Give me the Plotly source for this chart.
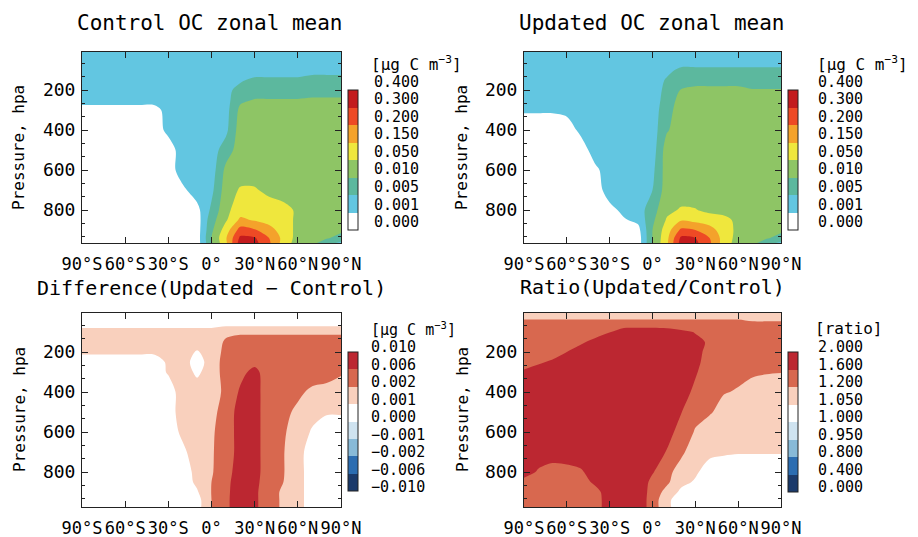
import numpy as np
import plotly.graph_objects as go

# ---------------- data ----------------
LATS = [-90, -80, -70, -60, -50, -40, -30, -20, -10, 0, 10, 20, 30, 40, 50, 60, 70, 80, 90]
PRESSURE = [5, 50, 100, 150, 200, 250, 300, 400, 500, 600, 700, 800, 850, 900, 940, 975]

LAT_TICKS = [-90, -60, -30, 0, 30, 60, 90]
LAT_LABELS = ["90°S", "60°S", "30°S", "0°", "30°N", "60°N", "90°N"]
P_TICKS = [200, 400, 600, 800]

OC_LEVELS = [0.000, 0.001, 0.005, 0.010, 0.050, 0.150, 0.200, 0.300, 0.400]
OC_LABELS = ["0.000", "0.001", "0.005", "0.010", "0.050", "0.150", "0.200", "0.300", "0.400"]
DIFF_LEVELS = [-0.010, -0.006, -0.002, -0.001, 0.000, 0.001, 0.002, 0.006, 0.010]
DIFF_LABELS = ["\u22120.010", "\u22120.006", "\u22120.002", "\u22120.001", "0.000", "0.001", "0.002", "0.006", "0.010"]
RATIO_LEVELS = [0.000, 0.400, 0.800, 0.950, 1.000, 1.050, 1.200, 1.600, 2.000]
RATIO_LABELS = ["0.000", "0.400", "0.800", "0.950", "1.000", "1.050", "1.200", "1.600", "2.000"]

# zonal mean OC, ug C m-3 ; rows = PRESSURE, columns = LATS
CONTROL_OC = [
    [.003, .003, .003, .003, .003, .003, .003, .003, .003, .003, .003, .003, .003, .003, .003, .003, .003, .003, .003],
    [.003, .003, .003, .003, .003, .003, .003, .003, .003, .003, .003, .003, .003, .003, .003, .003, .003, .003, .003],
    [.003, .003, .003, .003, .003, .003, .003, .003, .003, .003, .003, .003, .003, .003, .003, .003, .003, .003, .003],
    [.003, .003, .003, .003, .003, .003, .003, .003, .003, .003, .003, .0045, .006, .006, .006, .006, .0075, .0075, .0075],
    [.003, .003, .003, .003, .003, .003, .003, .003, .003, .003, .004, .0065, .008, .008, .008, .008, .008, .008, .008],
    [.003, .003, .003, .003, .003, .003, .003, .003, .003, .003, .0035, .009, .012, .012, .012, .012, .015, .015, .015],
    [.0005, .0005, .0005, .0005, .0005, .0005, .003, .003, .003, .003, .0035, .02, .03, .03, .03, .03, .03, .03, .03],
    [.0005, .0005, .0005, .0005, .0005, .0005, .002, .003, .003, .003, .004, .03, .03, .03, .03, .03, .03, .03, .03],
    [.0005, .0005, .0005, .0005, .0005, .0005, .0005, .003, .003, .003, .0075, .03, .03, .03, .03, .03, .03, .03, .03],
    [.0005, .0005, .0005, .0005, .0005, .0005, .0005, .003, .003, .003, .02, .03, .03, .03, .03, .03, .03, .03, .03],
    [.0005, .0005, .0005, .0005, .0005, .0005, .0005, .0008, .003, .004, .03, .06, .06, .04, .02, .03, .03, .03, .03],
    [.0005, .0005, .0005, .0005, .0005, .0005, .0005, .0005, .0007, .006, .04, .1, .1, .1, .1, .04, .03, .03, .03],
    [.0005, .0005, .0005, .0005, .0005, .0005, .0005, .0005, .0005, .008, .045, .16, .14, .11, .1, .04, .03, .03, .03],
    [.0005, .0005, .0005, .0005, .0005, .0005, .0005, .0005, .0005, .009, .1, .24, .21, .17, .1, .04, .03, .025, .02],
    [.0005, .0005, .0005, .0005, .0005, .0005, .0005, .0005, .0005, .01, .14, .32, .31, .2, .12, .035, .025, .015, .008],
    [.0005, .0005, .0005, .0005, .0005, .0005, .0005, .0005, .0005, .009, .12, .36, .34, .22, .1, .03, .012, .005, .003],
]

UPDATED_OC = [
    [.003, .003, .003, .003, .003, .003, .003, .003, .003, .003, .003, .003, .003, .003, .003, .003, .003, .003, .003],
    [.003, .003, .003, .003, .003, .003, .003, .003, .003, .003, .003, .003, .003, .003, .003, .003, .003, .003, .003],
    [.003, .003, .003, .003, .003, .003, .003, .003, .003, .003, .004, .006, .006, .006, .006, .006, .006, .006, .006],
    [.003, .003, .003, .003, .003, .003, .003, .003, .003, .003, .0055, .0075, .008, .008, .008, .008, .008, .008, .008],
    [.003, .003, .003, .003, .003, .003, .003, .003, .003, .0035, .006, .012, .02, .02, .02, .02, .012, .012, .012],
    [.003, .003, .003, .003, .003, .003, .003, .003, .003, .003, .007, .025, .03, .03, .03, .03, .03, .03, .03],
    [.0014, .0014, .0014, .002, .003, .003, .003, .003, .003, .003, .008, .03, .03, .03, .03, .03, .03, .03, .03],
    [.0005, .0005, .0005, .0005, .002, .003, .003, .003, .003, .003, .0095, .03, .03, .03, .03, .03, .03, .03, .03],
    [.0005, .0005, .0005, .0005, .0005, .003, .003, .003, .003, .003, .03, .03, .03, .03, .03, .03, .03, .03, .03],
    [.0005, .0005, .0005, .0005, .0005, .0008, .003, .003, .003, .004, .03, .03, .03, .03, .03, .03, .03, .03, .03],
    [.0005, .0005, .0005, .0005, .0005, .0005, .003, .003, .003, .005, .03, .03, .03, .03, .03, .03, .03, .03, .03],
    [.0005, .0005, .0005, .0005, .0005, .0005, .0007, .002, .003, .008, .04, .06, .055, .04, .035, .03, .03, .03, .03],
    [.0005, .0005, .0005, .0005, .0005, .0005, .0005, .0009, .002, .009, .06, .14, .12, .1, .08, .04, .03, .03, .03],
    [.0005, .0005, .0005, .0005, .0005, .0005, .0005, .0005, .0007, .01, .1, .22, .2, .17, .1, .04, .03, .025, .02],
    [.0005, .0005, .0005, .0005, .0005, .0005, .0005, .0005, .0005, .011, .12, .32, .3, .2, .11, .035, .025, .015, .008],
    [.0005, .0005, .0005, .0005, .0005, .0005, .0005, .0005, .0005, .012, .13, .35, .33, .22, .1, .03, .012, .005, .003],
]

DIFF_OC = [
    [.0005, .0005, .0005, .0005, .0005, .0005, .0005, .0005, .0005, .0005, .0005, .0005, .0005, .0005, .0005, .0005, .0005, .0005, .0005],
    [.0004, .0004, .0004, .0004, .0004, .0004, .0004, .0004, .0004, .0004, .0004, .0004, .0004, .0004, .0004, .0004, .0004, .0004, .0004],
    [.0014, .0014, .0014, .0014, .0014, .0014, .0014, .0014, .0014, .0014, .0018, .0018, .0018, .0018, .0018, .0018, .0018, .0018, .0018],
    [.0015, .0015, .0015, .0015, .0015, .0015, .0015, .0015, .0015, .0015, .0025, .004, .004, .004, .004, .004, .004, .004, .004],
    [.0012, .0012, .0012, .0012, .0012, .0012, .0015, .0015, .0009, .0015, .003, .004, .004, .004, .004, .004, .004, .004, .004],
    [.0004, .0004, .0004, .0004, .0004, .0004, .0012, .0015, .0005, .0015, .0035, .004, .005, .004, .004, .004, .004, .004, .004],
    [.0005, .0005, .0005, .0005, .0005, .0005, .0011, .0015, .0008, .0015, .0035, .005, .007, .004, .004, .004, .004, .004, .0025],
    [.0005, .0005, .0005, .0005, .0005, .0005, .0005, .0015, .0015, .0015, .003, .0065, .008, .003, .004, .0028, .0018, .0016, .0015],
    [.0005, .0005, .0005, .0005, .0005, .0005, .0005, .0015, .0015, .0018, .0032, .008, .008, .003, .003, .0018, .0013, .0011, .0011],
    [.0005, .0005, .0005, .0005, .0005, .0005, .0005, .0012, .0015, .0019, .0034, .008, .008, .003, .0025, .0015, .0009, .0005, .0005],
    [.0005, .0005, .0005, .0005, .0005, .0005, .0005, .0008, .0015, .0019, .004, .0075, .008, .003, .0022, .0013, .0006, .0005, .0005],
    [.0005, .0005, .0005, .0005, .0005, .0005, .0005, .0005, .0013, .0019, .0048, .0075, .008, .003, .0022, .0013, .0006, .0005, .0005],
    [.0005, .0005, .0005, .0005, .0005, .0005, .0005, .0005, .0012, .002, .005, .008, .0075, .003, .002, .0013, .0006, .0005, .0005],
    [.0005, .0005, .0005, .0005, .0005, .0005, .0005, .0005, .0009, .0021, .0052, .008, .007, .003, .0019, .0013, .0006, .0005, .0005],
    [.0005, .0005, .0005, .0005, .0005, .0005, .0005, .0005, .0006, .002, .0053, .008, .007, .003, .0019, .0013, .0006, .0005, .0005],
    [.0005, .0005, .0005, .0005, .0005, .0005, .0005, .0005, .0006, .002, .0053, .008, .007, .003, .0019, .0013, .0006, .0005, .0005],
]

RATIO_OC = [
    [1.15, 1.15, 1.15, 1.15, 1.15, 1.15, 1.15, 1.15, 1.15, 1.15, 1.15, 1.15, 1.15, 1.15, 1.15, 1.15, 1.15, 1.15, 1.15],
    [1.25, 1.25, 1.25, 1.25, 1.25, 1.25, 1.25, 1.25, 1.25, 1.25, 1.25, 1.25, 1.25, 1.25, 1.25, 1.25, 1.21, 1.21, 1.21],
    [1.4, 1.4, 1.4, 1.4, 1.4, 1.45, 1.58, 1.83, 1.85, 1.85, 1.8, 1.69, 1.58, 1.45, 1.4, 1.4, 1.4, 1.4, 1.4],
    [1.4, 1.4, 1.4, 1.4, 1.55, 1.7, 1.85, 1.85, 1.85, 1.85, 1.85, 1.8, 1.7, 1.55, 1.4, 1.4, 1.4, 1.4, 1.4],
    [1.4, 1.4, 1.45, 1.6, 1.75, 1.85, 1.85, 1.85, 1.85, 1.85, 1.85, 1.85, 1.8, 1.4, 1.4, 1.4, 1.4, 1.4, 1.4],
    [1.45, 1.55, 1.65, 1.75, 1.85, 1.85, 1.85, 1.85, 1.85, 1.85, 1.85, 1.85, 1.75, 1.35, 1.35, 1.35, 1.35, 1.35, 1.35],
    [1.65, 1.75, 1.85, 1.85, 1.85, 1.85, 1.85, 1.85, 1.85, 1.85, 1.85, 1.85, 1.65, 1.35, 1.3, 1.28, 1.25, 1.22, 1.21],
    [1.85, 1.85, 1.85, 1.85, 1.85, 1.85, 1.85, 1.85, 1.85, 1.85, 1.85, 1.8, 1.5, 1.3, 1.22, 1.19, 1.15, 1.14, 1.13],
    [1.85, 1.85, 1.85, 1.85, 1.85, 1.85, 1.85, 1.85, 1.85, 1.85, 1.8, 1.62, 1.3, 1.24, 1.15, 1.12, 1.12, 1.11, 1.1],
    [1.85, 1.85, 1.85, 1.85, 1.85, 1.85, 1.85, 1.85, 1.85, 1.85, 1.8, 1.4, 1.19, 1.12, 1.1, 1.09, 1.08, 1.08, 1.08],
    [1.85, 1.85, 1.85, 1.85, 1.85, 1.85, 1.85, 1.85, 1.85, 1.75, 1.58, 1.3, 1.1, 1.08, 1.07, 1.06, 1.06, 1.06, 1.06],
    [1.8, 1.55, 1.4, 1.45, 1.55, 1.8, 1.85, 1.85, 1.85, 1.63, 1.35, 1.12, 1.07, 1.03, 1.02, 1.02, 1.02, 1.02, 1.02],
    [1.45, 1.4, 1.4, 1.4, 1.4, 1.7, 1.85, 1.85, 1.85, 1.5, 1.28, 1.09, 1.045, 1.02, 1.02, 1.02, 1.02, 1.02, 1.02],
    [1.4, 1.4, 1.4, 1.4, 1.4, 1.45, 1.85, 1.85, 1.85, 1.45, 1.15, 1.04, 1.02, 1.02, 1.02, 1.02, 1.02, 1.02, 1.02],
    [1.4, 1.4, 1.4, 1.4, 1.4, 1.4, 1.85, 1.85, 1.85, 1.42, 1.09, 1.02, 1.02, 1.02, 1.02, 1.02, 1.02, 1.02, 1.02],
    [1.4, 1.4, 1.4, 1.4, 1.4, 1.4, 1.85, 1.85, 1.85, 1.42, 1.09, 1.02, 1.02, 1.02, 1.02, 1.02, 1.02, 1.02, 1.02],
]

# ---------------- styling ----------------
OC_COLORS = ["#ffffff", "#62c6e1", "#5cb89e", "#8ec565", "#efe73d", "#f4a22b", "#ee4a25", "#c31b1e"]
RDBU_COLORS = ["#1b3a6b", "#2c6db1", "#88bad8", "#cfe3f0", "#ffffff", "#f9d0bd", "#d8684f", "#bc2731"]

MONO = "DejaVu Sans Mono"
W, H = 918, 537
LABEL_SIZE = 15


def px(x):
    return x / W


def py(y):
    return 1 - y / H


def to_index(field, levels):
    return np.interp(np.array(field, dtype=float), levels, np.arange(len(levels)))


panels = [
    dict(z=CONTROL_OC, levels=OC_LEVELS, labels=OC_LABELS, colors=OC_COLORS,
         xd=(82, 341), yd=(52, 243), yr=[965, 10], cbx=348, cby=(90, 230),
         lab_x=373, lab_y=(82, 222), head="unit", head_xy=(370, 64, 16)),
    dict(z=UPDATED_OC, levels=OC_LEVELS, labels=OC_LABELS, colors=OC_COLORS,
         xd=(524, 781), yd=(52, 243), yr=[965, 10], cbx=788, cby=(90, 230),
         lab_x=817, lab_y=(82, 222), head="unit", head_xy=(816, 64, 16)),
    dict(z=DIFF_OC, levels=DIFF_LEVELS, labels=DIFF_LABELS, colors=RDBU_COLORS,
         xd=(82, 341), yd=(313, 507), yr=[975, 5], cbx=348, cby=(352, 491),
         lab_x=370, lab_y=(347, 487), head="unit", head_xy=(370, 329, 15)),
    dict(z=RATIO_OC, levels=RATIO_LEVELS, labels=RATIO_LABELS, colors=RDBU_COLORS,
         xd=(524, 781), yd=(313, 507), yr=[975, 5], cbx=788, cby=(352, 492),
         lab_x=817, lab_y=(347, 487), head="[ratio]", head_xy=(814, 328, 16)),
]

fig = go.Figure()
layout = dict(
    template="none",
    width=W, height=H, autosize=False,
    margin=dict(l=0, r=0, t=0, b=0, pad=0),
    paper_bgcolor="white", plot_bgcolor="white",
    showlegend=False,
    font=dict(family=MONO, color="black"),
)

ann = []


def add_text(text, x, y, size, xanchor="center", angle=0):
    ann.append(dict(text=text, x=px(x), y=py(y), xref="paper", yref="paper",
                    xanchor=xanchor, yanchor="middle", showarrow=False, borderpad=0,
                    textangle=angle, font=dict(family=MONO, size=size, color="black")))


UNIT = "[\u03bcg C m<sup>\u22123</sup>]"

for i, p in enumerate(panels, start=1):
    xa = "x" if i == 1 else f"x{i}"
    ya = "y" if i == 1 else f"y{i}"
    n = len(p["colors"])
    cs = [[k / (n - 1), c] for k, c in enumerate(p["colors"])]
    cb_len = p["cby"][1] - p["cby"][0]
    cb_mid = (p["cby"][1] + p["cby"][0]) / 2
    fig.add_trace(go.Contour(
        x=LATS, y=PRESSURE, z=to_index(p["z"], p["levels"]),
        xaxis=xa, yaxis=ya,
        zmin=0, zmax=8, autocontour=False,
        contours=dict(start=1, end=7, size=1, coloring="fill", showlines=False),
        line=dict(width=0, smoothing=0.9),
        colorscale=cs,
        hoverinfo="skip",
        colorbar=dict(
            x=px(p["cbx"]), xanchor="left", xpad=0,
            y=py(cb_mid), yanchor="middle", ypad=0,
            len=cb_len, lenmode="pixels",
            thickness=10, thicknessmode="pixels",
            outlinewidth=1, outlinecolor="#222",
            ticks="", showticklabels=False,
        ),
    ))
    # colour-bar labels (top = highest level), set just above each band edge as in the original
    top_y, bot_y = p["lab_y"]
    step = (bot_y - top_y) / 8
    for k, lab in enumerate(reversed(p["labels"])):
        add_text(lab, p["lab_x"], top_y + k * step, LABEL_SIZE, xanchor="left")
    hx, hy, hs = p["head_xy"]
    add_text(UNIT if p["head"] == "unit" else p["head"], hx, hy, hs, xanchor="left")

    axkey_x = "xaxis" if i == 1 else f"xaxis{i}"
    axkey_y = "yaxis" if i == 1 else f"yaxis{i}"
    layout[axkey_x] = dict(
        domain=[px(p["xd"][0]), px(p["xd"][1])], anchor=ya, automargin=False,
        range=[-90, 90], tickmode="array", tickvals=LAT_TICKS, ticktext=LAT_LABELS,
        ticks="inside", ticklen=6, tickcolor="#222", tickangle=0,
        showline=True, linecolor="#222", linewidth=1, mirror="ticks",
        showgrid=False, zeroline=False, ticklabelstandoff=6,
        tickfont=dict(family=MONO, size=17, color="black"),
    )
    layout[axkey_y] = dict(
        domain=[py(p["yd"][1]), py(p["yd"][0])], anchor=xa, automargin=False,
        range=p["yr"], tickmode="array", tickvals=P_TICKS,
        ticks="inside", ticklen=6, tickcolor="#222",
        minor=dict(ticks="inside", ticklen=3, tickcolor="#222", dtick=200 / 3, tick0=0),
        showline=True, linecolor="#222", linewidth=1, mirror="ticks",
        showgrid=False, zeroline=False, ticklabelstandoff=2,
        tickfont=dict(family=MONO, size=18, color="black"),
    )

add_text("Control OC zonal mean", 210, 23, 21)
add_text("Updated OC zonal mean", 652, 23, 21)
add_text("Difference(Updated \u2212 Control)", 211, 288, 20)
add_text("Ratio(Updated/Control)", 652, 287, 20)
for x, y in [(19, 148), (462, 148), (19, 410), (462, 410)]:
    add_text("Pressure, hpa", x, y, 16, angle=-90)

layout["annotations"] = ann
fig.update_layout(**layout)
fig.write_html(
    "out.html",
    config={"displayModeBar": False},
    post_script="document.body.style.margin='0px';document.body.style.padding='0px';",
)
